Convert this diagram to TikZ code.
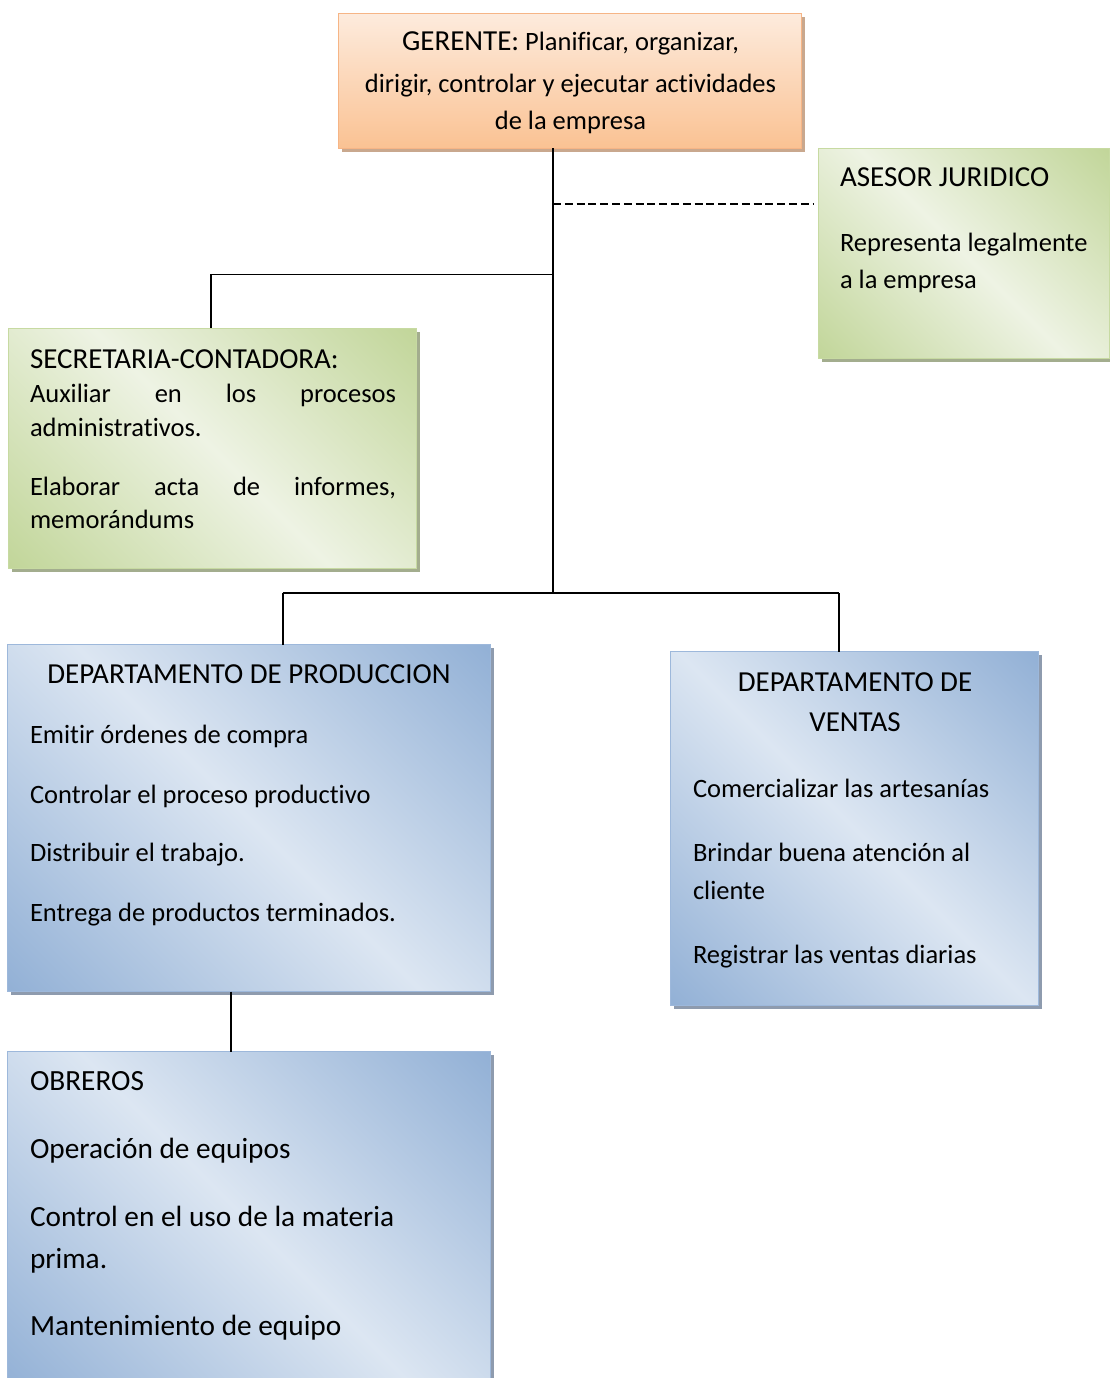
\documentclass[tikz,border=0pt]{standalone}
\usepackage{fontspec}
\setmainfont{Carlito}[Ligatures=NoCommon]
\usetikzlibrary{shadows,calc}
\definecolor{gdark}{HTML}{C2D69A}
\definecolor{glight}{HTML}{EEF3E4}
\definecolor{gline}{HTML}{C7DAA2}
\definecolor{gshadow}{HTML}{A3AD8E}
\definecolor{bdark}{HTML}{93B1D6}
\definecolor{blight}{HTML}{DCE6F2}
\definecolor{bline}{HTML}{9DB8DB}
\definecolor{bshadow}{HTML}{8E9BAE}
\definecolor{ptop}{HTML}{FDEBDD}
\definecolor{pbot}{HTML}{FAC293}
\definecolor{pline}{HTML}{F6B586}
\definecolor{pshadow}{HTML}{C9A88E}
\pgfdeclarehorizontalshading{greendiag}{100bp}{color(0bp)=(gdark); color(15bp)=(gdark); color(50bp)=(glight); color(85bp)=(gdark); color(100bp)=(gdark)}
\pgfdeclarehorizontalshading{bluediag}{100bp}{color(0bp)=(bdark); color(15bp)=(bdark); color(50bp)=(blight); color(85bp)=(bdark); color(100bp)=(bdark)}
\newcommand\ttlf{\fontsize{29}{34}\selectfont}
\newcommand\bodf{\fontsize{26.5}{32}\selectfont}
\newcommand\obrf{\fontsize{29.3}{34}\selectfont}
\tikzset{
  boxbase/.style={rectangle, inner sep=0pt, outer sep=0pt, anchor=north west, line width=1pt},
  greenbox/.style={boxbase, draw=gline, shading=greendiag, shading angle=45,
    drop shadow={shadow xshift=3.5pt, shadow yshift=-3.5pt, fill=gshadow, opacity=1}},
  bluebox/.style={boxbase, draw=bline, shading=bluediag, shading angle=45,
    drop shadow={shadow xshift=3.5pt, shadow yshift=-3.5pt, fill=bshadow, opacity=1}},
  peachbox/.style={boxbase, draw=pline, top color=ptop, bottom color=pbot,
    drop shadow={shadow xshift=3.5pt, shadow yshift=-3.5pt, fill=pshadow, opacity=1}},
  lbl/.style={inner sep=0pt, outer sep=0pt, anchor=base west, font=\bodf},
  clbl/.style={inner sep=0pt, outer sep=0pt, anchor=base, font=\bodf},
  conn/.style={line width=1.9pt, black},
  dashconn/.style={line width=2.2pt, black, dash pattern=on 8pt off 3.8pt},
}
\begin{document}
\begin{tikzpicture}[x=1pt,y=-1pt]
\useasboundingbox (0,0) rectangle (1110,1378);
% boxes
\node[peachbox, minimum width=463.4pt, minimum height=135pt] (ger) at (338.3,13.3) {};
\node[greenbox, minimum width=291pt, minimum height=210pt] (ase) at (818.3,148.3) {};
\node[greenbox, minimum width=408.4pt, minimum height=240pt] (sec) at (8.3,328.3) {};
\node[bluebox, minimum width=482.7pt, minimum height=347pt] (prod) at (7.3,644.7) {};
\node[bluebox, minimum width=368.3pt, minimum height=353.3pt] (ven) at (670,651.7) {};
\node[bluebox, minimum width=482.7pt, minimum height=340pt] (obr) at (7.3,1051.7) {};
% connectors
\coordinate (jd) at (553,204.3);
\coordinate (j1) at (553,274.5);
\coordinate (j2) at (553,593.3);
\coordinate (cs) at (211,274.5);
\coordinate (cp) at (282.7,593.3);
\coordinate (cv) at (839,593.3);
\coordinate (co) at (231.3,1000);
\draw[conn] (ger.south -| j1) -- (j2);
\draw[conn] (j1) -- (cs) -- (cs |- sec.north);
\draw[conn] (cp) -- (cv);
\draw[conn] (cp) -- (cp |- prod.north);
\draw[conn] (cv) -- (cv |- ven.north);
\draw[conn] (co |- prod.south) -- (co |- obr.north);
\draw[dashconn, shorten >=5pt] (jd) -- (jd -| ase.west);
% GERENTE
\node[clbl] (g1) at (570.5,50.7) {{\ttlf GERENTE:} Planificar, organizar,};
\node[clbl] (g2) at (570.5,92.3) {dirigir, controlar y ejecutar actividades};
\node[clbl] (g3) at (570.5,130) {de la empresa};
% ASESOR
\node[lbl, font=\ttlf] (a1) at (840,186.7) {ASESOR JURIDICO};
\node[lbl] (a2) at (840,251.7) {Representa legalmente};
\node[lbl] (a3) at (840,288.3) {a la empresa};
% SECRETARIA
\node[lbl, font=\ttlf] (s1) at (30,368.3) {SECRETARIA-CONTADORA:};
\node[lbl] (s2) at (30,402.7) {\hbox to 366pt{Auxiliar\hfill en\hfill los\hfill procesos}};
\node[lbl] (s3) at (30,436.7) {administrativos.};
\node[lbl] (s4) at (30,495) {\hbox to 366pt{Elaborar\hfill acta\hfill de\hfill informes,}};
\node[lbl] (s5) at (30,528.3) {memorándums};
% PRODUCCION
\node[clbl, font=\ttlf] (p1) at (249,683.3) {DEPARTAMENTO DE PRODUCCION};
\node[lbl] (p2) at (30,743.3) {Emitir órdenes de compra};
\node[lbl] (p3) at (30,803.3) {Controlar el proceso productivo};
\node[lbl] (p4) at (30,861.7) {Distribuir el trabajo.};
\node[lbl] (p5) at (30,921) {Entrega de productos terminados.};
% VENTAS
\node[clbl, font=\ttlf] (v1) at (855,691) {DEPARTAMENTO DE};
\node[clbl, font=\ttlf] (v2) at (855,731.7) {VENTAS};
\node[lbl] (v3) at (693,797.7) {Comercializar las artesanías};
\node[lbl] (v4) at (693,861.7) {Brindar buena atención al};
\node[lbl] (v5) at (693,899.3) {cliente};
\node[lbl] (v6) at (693,963.3) {Registrar las ventas diarias};
% OBREROS
\node[lbl, font=\obrf] (o1) at (30,1090.7) {OBREROS};
\node[lbl, font=\obrf] (o2) at (30,1158.3) {Operación de equipos};
\node[lbl, font=\obrf] (o3) at (30,1226.7) {Control en el uso de la materia};
\node[lbl, font=\obrf] (o4) at (30,1268.3) {prima.};
\node[lbl, font=\obrf] (o5) at (30,1335) {Mantenimiento de equipo};
\end{tikzpicture}
\end{document}
